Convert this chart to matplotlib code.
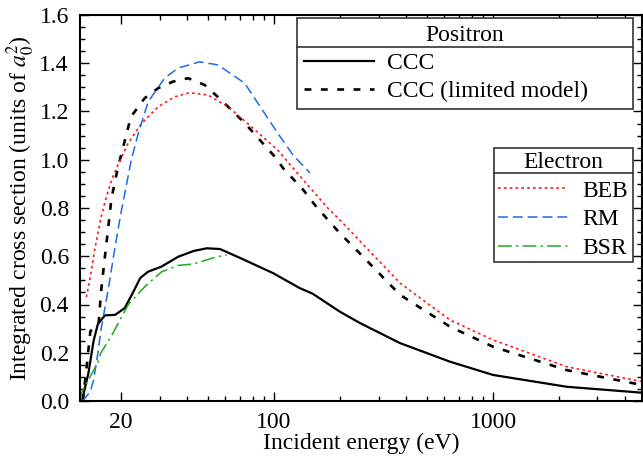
import matplotlib
matplotlib.use("Agg")
import matplotlib.pyplot as plt
from matplotlib.lines import Line2D
from matplotlib.ticker import MultipleLocator, FixedLocator, FixedFormatter, NullFormatter

plt.rcParams['font.family'] = ['Liberation Serif', 'DejaVu Serif']
plt.rcParams['mathtext.fontset'] = 'stix'
plt.rcParams['font.size'] = 17

# positron, CCC
ccc_e = [13.3, 13.4, 14.2, 15.0, 15.7, 16.9, 18.8, 20.8, 22.7, 24.5, 26.6, 30.6, 36.5, 43, 49.3,
         56.6, 70, 99, 131, 150, 200, 247, 376, 636, 1000, 2170, 5000]
ccc_s = [0.0, 0.018, 0.115, 0.25, 0.32, 0.355, 0.357, 0.385, 0.45, 0.51, 0.536, 0.557, 0.598, 0.622, 0.633,
         0.63, 0.593, 0.53, 0.468, 0.445, 0.37, 0.323, 0.24, 0.163, 0.108, 0.059, 0.033]

# positron, CCC limited model
lim_e = [13.4, 13.9, 14.5, 15.8, 16.2, 16.9, 17.5, 18.1, 19.4, 22.2, 25.7, 29.6, 34.6, 40.5, 48.2,
         57.3, 73.5, 100.7, 110, 136, 156, 200, 238, 376, 636, 1000, 2170, 5000]
lim_s = [0.0, 0.13, 0.29, 0.315, 0.45, 0.60, 0.72, 0.84, 0.97, 1.178, 1.256, 1.297, 1.324, 1.338, 1.31,
         1.248, 1.152, 1.013, 0.965, 0.875, 0.805, 0.695, 0.626, 0.44, 0.308, 0.225, 0.128, 0.063]

# electron, BEB
beb_e = [13.9, 14.4, 15.2, 16.2, 17.2, 18.2, 19.4, 21.6, 24.8, 29.6, 35.2, 41.2, 50, 61.6, 78.8,
         104, 136, 176, 200, 376, 636, 1000, 2170, 5000]
beb_s = [0.43, 0.50, 0.63, 0.76, 0.85, 0.92, 0.98, 1.07, 1.15, 1.22, 1.261, 1.278, 1.268, 1.22, 1.137,
         1.04, 0.916, 0.80, 0.75, 0.489, 0.336, 0.253, 0.142, 0.077]

# electron, RM
rm_e = [13.3, 13.7, 14.5, 15.0, 15.7, 16.2, 17.0, 17.7, 18.8, 20.1, 22.3, 24.0, 26.6, 31.7, 36.5,
        45.8, 55.5, 73.5, 104, 122, 146]
rm_s = [0.0, 0.012, 0.04, 0.087, 0.2, 0.294, 0.40, 0.49, 0.64, 0.79, 1.0, 1.11, 1.24, 1.339, 1.38,
        1.406, 1.393, 1.317, 1.11, 1.02, 0.945]

# electron, BSR
bsr_e = [13.0, 13.3, 14.2, 15.7, 16.2, 18.1, 21.6, 25.7, 30.6, 36.5, 42.8, 49.3, 55, 60.9]
bsr_s = [0.0, 0.04, 0.087, 0.16, 0.2, 0.27, 0.40, 0.474, 0.535, 0.562, 0.568, 0.585, 0.598, 0.605]

fig = plt.figure(figsize=(6.43, 4.58), dpi=100)
ax = fig.add_axes([80/643, 57/458, 562/643, 386/458])

h_ccc, = ax.plot(ccc_e, ccc_s, color='black', lw=1.6, label='CCC')
h_lim, = ax.plot(lim_e, lim_s, color='black', lw=1.9, ls=(0, (2.6, 3.6)), label='CCC (limited model)')
h_beb, = ax.plot(beb_e, beb_s, color='#ff1a1a', lw=1.2, ls=(0, (1.6, 1.9)), label='BEB')
h_rm, = ax.plot(rm_e, rm_s, color='#1f6ae8', lw=1.1, ls=(0, (6.5, 3.2)), label='RM')
h_bsr, = ax.plot(bsr_e, bsr_s, color='#22a822', lw=1.1, ls=(0, (9, 2.8, 1.5, 2.8)), label='BSR')

ax.set_xscale('log')
ax.set_xlim(13, 4790)
ax.set_ylim(0, 1.6)

ax.xaxis.set_major_locator(FixedLocator([20, 100, 1000]))
ax.xaxis.set_major_formatter(FixedFormatter(['20', '100', '1000']))
minors = [30, 40, 50, 60, 70, 80, 90, 200, 300, 400, 500, 600, 700, 800, 900, 2000, 3000, 4000]
ax.xaxis.set_minor_locator(FixedLocator(minors))
ax.xaxis.set_minor_formatter(NullFormatter())
ax.yaxis.set_major_locator(MultipleLocator(0.2))
ax.yaxis.set_minor_locator(MultipleLocator(0.05))
ax.yaxis.set_major_formatter(plt.FuncFormatter(lambda v, p: '%.1f' % v))

ax.tick_params(which='both', direction='in', top=True, right=True, width=1.0)
ax.tick_params(which='major', length=6.5, pad=8)
ax.tick_params(which='minor', length=3.5)
for s in ax.spines.values():
    s.set_linewidth(1.5)

ax.set_xlabel('Incident energy (eV)', labelpad=0)
ax.set_ylabel('Integrated cross section (units of $a_0^2$)', labelpad=2)

W, H = 643.0, 458.0
leg1 = ax.legend(handles=[h_ccc, h_lim], title='Positron', loc='upper left',
                 bbox_to_anchor=(297/W, 1 - 23/H, 336/W, 0.01), bbox_transform=fig.transFigure,
                 mode='expand', fancybox=False, edgecolor='#333333', framealpha=1,
                 handlelength=3.0, handletextpad=0.55, labelspacing=0.28, borderpad=0.28,
                 borderaxespad=0, title_fontsize=17)
leg1.get_frame().set_linewidth(1.2)
ax.add_artist(leg1)
leg2 = ax.legend(handles=[h_beb, h_rm, h_bsr], title='Electron', loc='upper left',
                 bbox_to_anchor=(494/W, 1 - 153/H, 139/W, 0.01), bbox_transform=fig.transFigure,
                 mode='expand', fancybox=False, edgecolor='#333333', framealpha=1,
                 handlelength=3.0, handletextpad=0.6, labelspacing=0.3, borderpad=0.15,
                 borderaxespad=0, title_fontsize=17)
leg2.get_frame().set_linewidth(1.2)

# separator line under each legend title
fig.canvas.draw()
r = fig.canvas.get_renderer()
for lg in (leg1, leg2):
    fb = lg.get_frame().get_window_extent(r)
    tb = lg.get_title().get_window_extent(r)
    yl = (tb.y0 + tb.y1) / 2 - 11
    fig.add_artist(Line2D([fb.x0 / W, fb.x1 / W], [yl / H, yl / H], transform=fig.transFigure,
                          color='#333333', lw=1.2))

fig.savefig('out.png', dpi=100)
